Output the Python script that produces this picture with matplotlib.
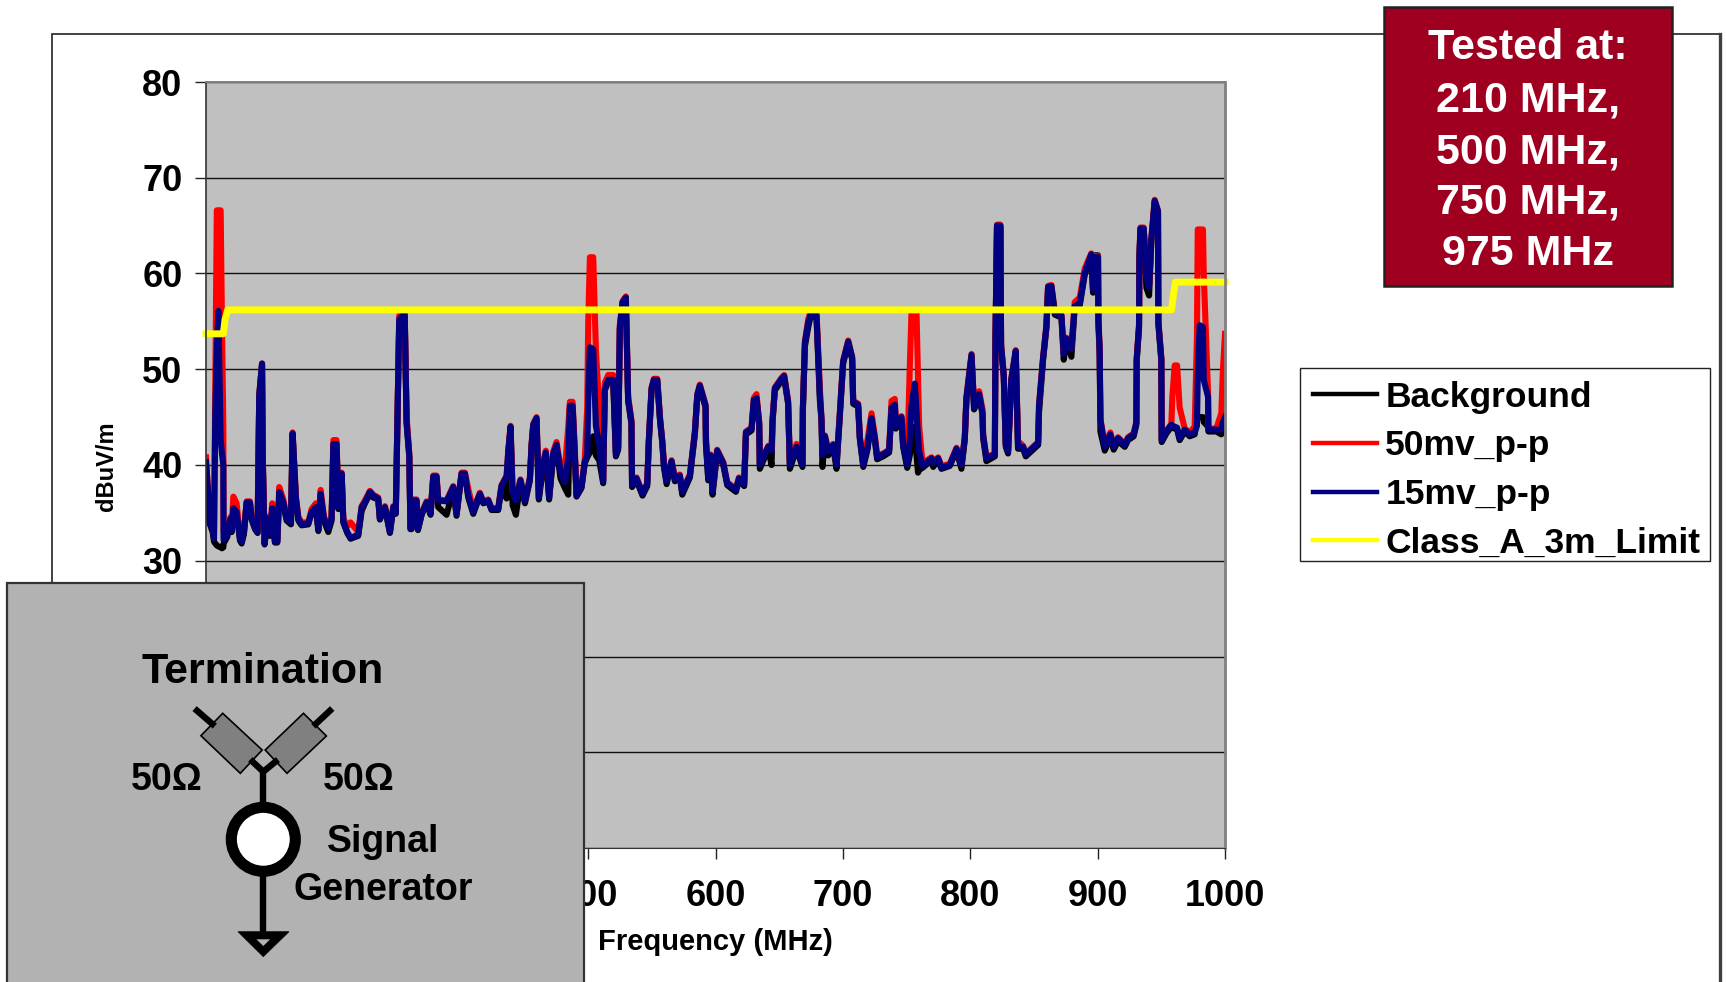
import matplotlib
matplotlib.use('Agg')
import matplotlib.pyplot as plt
from matplotlib.patches import Rectangle, Polygon, Circle

plt.rcParams['font.family'] = ['Liberation Sans', 'DejaVu Sans']
plt.rcParams['font.weight'] = 'bold'

# frequency grid, MHz
freq = [
    200, 201.8, 202.6, 205.2, 206.3, 207.3, 208.5, 209.7, 211.5, 212.5,
    213.6, 213.8, 216.7, 219.4, 220.2, 221.5, 224, 226.7, 228, 229.8,
    231.9, 234.5, 235.8, 238.5, 240.5, 241.8, 244, 244.5, 246, 248.1,
    250.2, 252, 254.1, 256, 257.5, 260.7, 263.3, 266.7, 268, 270.6,
    272.5, 275, 280.3, 282.9, 286.3, 288.2, 290, 292.6, 296, 298.6,
    300, 302.5, 303.9, 306.5, 307.8, 310.9, 313.5, 319.5, 322.2, 324.8,
    328.7, 331.3, 335.2, 336.5, 340.5, 344.4, 347, 349, 350.9, 351.7,
    354.9, 356, 357.5, 359.6, 360.5, 361.4, 362.7, 365.3, 366.4, 369.3,
    373.2, 376.3, 378.4, 381, 382.3, 388.9, 394.1, 396.7, 400.6, 403.3,
    405.9, 409.8, 415, 417.7, 421.6, 424.2, 429.4, 432, 436, 437.3,
    439.1, 440.7, 443.3, 446.9, 450.4, 454.3, 455.6, 456.9, 459.5, 461.3,
    463.4, 466.8, 469.4, 472.6, 475.2, 478.3, 481.7, 484.4, 485.7, 487.8,
    489.6, 490.9, 494.8, 497.4, 499.3, 500.1, 501.4, 504, 506.1, 508.7,
    511.8, 513.1, 515.8, 519.7, 521.8, 523.6, 524.9, 527, 529.6, 531.4,
    534, 534.5, 538, 542.7, 546.4, 547.6, 549.8, 551.6, 554.3, 556.4,
    558.2, 559.5, 561.6, 565.5, 568.1, 572, 573.9, 579.9, 582, 583.8,
    585.7, 587.7, 592.2, 592.5, 594.3, 596.1, 597.7, 601.3, 606.1, 609.2,
    616, 618.4, 622.5, 623.9, 628.3, 630.1, 632.2, 634.3, 634.8, 641.4,
    644, 644.8, 646.6, 651.8, 653.9, 657, 658.4, 663.6, 668.3, 668.6,
    670.2, 672.8, 674.6, 679.3, 681.9, 683.2, 684, 685.9, 688.5, 692.4,
    695, 697.1, 700.2, 704.2, 707.3, 708.1, 712, 713.3, 716, 719.3,
    722.5, 725.1, 726.9, 731.6, 736.3, 738.2, 740.8, 741.6, 746, 747.3,
    750.5, 752.5, 753.9, 756.5, 757.8, 759, 759.9, 762.5, 769.6, 770.9,
    774.8, 777.4, 783.9, 789.2, 793.1, 795.7, 797, 801, 803, 807,
    809.6, 810.1, 812.7, 819.3, 819.8, 821, 823.7, 824.2, 826.3, 827.9,
    829.7, 832.3, 835.7, 837.5, 841.5, 843.6, 853.3, 854, 857.2, 859.8,
    861.1, 863.7, 866.4, 871.6, 873.4, 875.5, 879.4, 882, 886, 889.9,
    895, 896.4, 897.7, 900.3, 900.6, 901.6, 902.2, 905.6, 910, 912.6,
    916, 921.3, 923.9, 928.3, 930.4, 930.7, 932.5, 932.8, 933.6, 936.2,
    938.3, 940.4, 942.2, 944.8, 947.4, 947.7, 950, 950.3, 954, 957.9,
    958.7, 960.5, 962.4, 964.4, 968.4, 972.3, 976.2, 978, 978.6, 980.1,
    982.7, 983.3, 986.7, 987, 993.2, 997.1, 998.4, 1000,
]

background = [
    38.5, 36.5, 34, 33, 32, 31.8, 31.6, 31.5, 31.4, 31.3,
    31.4, 31.8, 32.5, 34.2, 33, 35.2, 35, 32.1, 31.8, 32.8,
    36, 36, 34.3, 33.3, 32.9, 47, 50.4, 40.8, 31.7, 34.2,
    32.6, 35.2, 31.9, 31.9, 37, 35.9, 34.2, 33.8, 43.2, 36.3,
    34.2, 33.7, 33.8, 35, 35.4, 33.1, 36.8, 34.2, 33, 34.2,
    42, 42, 35.4, 39, 34, 32.9, 32.3, 32.6, 35.2, 36,
    37, 36.6, 36.4, 34.3, 35.5, 32.9, 35.5, 34.9, 48.8, 55,
    55.5, 55.5, 44.3, 40.8, 33.3, 33.3, 36.2, 36.2, 33.2, 34.8,
    36, 34.8, 38.7, 38.7, 35.6, 34.8, 37.5, 34.7, 39, 39,
    36.6, 34.9, 36.8, 36, 36.2, 35.3, 35.3, 37.6, 36.5, 41.2,
    43.8, 35.8, 34.8, 38.2, 36, 38.4, 41.9, 44, 44.7, 36.4,
    38.5, 41, 36.4, 41, 41.9, 38.6, 37.6, 36.9, 46, 46,
    40.8, 36.7, 37.6, 40.2, 40.8, 41, 41.3, 43, 41, 40.5,
    38.1, 47.8, 48.7, 48.7, 40.9, 41.6, 54.2, 56.8, 57.3, 46.7,
    44.3, 37.7, 38.4, 36.8, 37.8, 42.2, 47.8, 48.7, 48.7, 44.7,
    42.3, 39.8, 38, 40.2, 38.3, 38.7, 36.9, 38.7, 41.1, 43.2,
    47.1, 48.1, 46, 42.2, 38.4, 40.8, 36.9, 41.3, 40, 37.9,
    37.2, 38.4, 37.8, 43.2, 43.6, 46.6, 46.8, 44.2, 39.6, 41.7,
    40, 44.5, 47.8, 48.8, 49.1, 46.4, 39.6, 41.7, 39.8, 45.7,
    52.4, 54.4, 55.5, 55.4, 46.8, 44.6, 39.8, 42.8, 41, 41.9,
    39.6, 44, 50.6, 52.7, 51, 46.4, 46.1, 42.7, 39.8, 41.6,
    44.7, 42.6, 40.6, 40.9, 41.3, 45.8, 46.1, 43.8, 44.8, 41.9,
    39.7, 41, 42, 44, 41, 39.2, 39.5, 39.7, 40.5, 39.8,
    40.5, 39.6, 39.9, 41.5, 39.6, 42.6, 46.8, 51.3, 45.8, 47.2,
    45.3, 42.8, 40.4, 40.9, 53, 64.8, 64.8, 52.3, 49.2, 41.9,
    41.2, 48.8, 51.7, 41.7, 41.7, 40.9, 42.1, 45.5, 51, 54.3,
    58.4, 58.5, 55.7, 55.4, 51, 53, 51.3, 56.4, 56.7, 59.9,
    61.8, 58, 61.9, 61.9, 54.8, 51.5, 43.5, 41.5, 42.9, 41.6,
    42.5, 41.9, 42.6, 43, 44.2, 50.9, 54.3, 61.6, 64.5, 64.5,
    58.5, 57.7, 63.4, 67.4, 66.3, 54.7, 50.9, 42.4, 43.3, 44,
    43.9, 43.8, 43.7, 42.6, 43.5, 43, 43.2, 45, 45, 45,
    45, 44.5, 44, 43.5, 43.5, 43.2, 44, 44.5,
]

mv50 = [
    40.8, 37, 34.3, 33.6, 32.6, 48, 66.6, 66.6, 66.6, 55,
    44, 33, 33, 34.6, 33.5, 36.7, 36, 32.5, 32.2, 33.2,
    36.2, 36.2, 34.6, 33.5, 33.2, 47.4, 50.6, 41.5, 32, 34.6,
    33, 36, 32.2, 32.2, 37.7, 36.4, 34.6, 34.2, 43.4, 36.7,
    34.6, 34, 34, 35.4, 36, 33.5, 37.4, 34.6, 33.6, 34.6,
    42.6, 42.6, 35.8, 39.2, 34.4, 33.6, 34, 33, 35.7, 36.3,
    37.3, 36.9, 36.6, 34.5, 35.7, 33.1, 35.7, 35.1, 49.2, 55.6,
    55.8, 55.8, 45, 41.2, 33.5, 33.5, 36.4, 36.4, 33.4, 35,
    36.2, 35, 38.9, 38.9, 36.4, 36.3, 37.8, 35, 39.2, 39.2,
    37.5, 35.3, 37.1, 36.2, 36.4, 35.5, 35.5, 37.9, 38.9, 41.5,
    44.1, 37.3, 36.4, 38.5, 36.3, 38.7, 42.2, 44.3, 45, 36.8,
    39.6, 41.5, 36.8, 41.4, 42.4, 39.8, 39.5, 44, 46.6, 46.6,
    41.5, 37, 37.8, 40.6, 46, 55, 61.7, 61.7, 52, 46,
    38.5, 48.6, 49.4, 49.4, 41.3, 42, 54.6, 57.1, 57.6, 47.2,
    44.7, 38, 38.7, 37.1, 38.1, 42.5, 48.1, 49, 49, 45,
    42.6, 40.2, 38.4, 40.5, 38.7, 39, 37.3, 39, 41.4, 43.5,
    47.4, 48.4, 46.3, 43, 39.5, 41.1, 37.3, 41.6, 40.3, 38.2,
    37.5, 38.7, 38.1, 43.5, 43.9, 47, 47.4, 44.5, 40.1, 42,
    41.6, 44.8, 48.1, 49.1, 49.4, 46.7, 40.2, 42.2, 40.1, 46,
    52.9, 55.2, 56, 56, 48, 45, 41.1, 43.1, 41.5, 42.2,
    40.1, 44.4, 50.9, 53, 51.3, 46.7, 46.4, 43, 40.2, 42.6,
    45.4, 43, 41, 41.2, 41.6, 46.7, 46.9, 44.2, 45.1, 42.2,
    40.5, 50, 56, 56, 56, 49, 44, 40.2, 40.8, 40.3,
    40.8, 39.9, 40.1, 41.8, 40.1, 42.9, 47.1, 51.6, 46.3, 47.7,
    45.8, 43.2, 40.8, 41.2, 53.3, 65.1, 65.1, 52.6, 49.5, 42.2,
    41.5, 49.1, 52, 42.5, 42, 41.2, 42.4, 46.3, 51.3, 54.6,
    58.7, 58.8, 56, 55.7, 51.7, 53.3, 52.2, 57, 57.5, 60.5,
    62.1, 58.4, 61.8, 61.8, 55.3, 52.1, 44.8, 42.1, 43.4, 42,
    42.9, 42.2, 42.9, 43.3, 44.5, 51.2, 54.6, 61.9, 64.8, 64.8,
    59.8, 58.7, 63.7, 67.7, 66.6, 55, 51.2, 42.7, 43.6, 44.3,
    47.2, 50.4, 50.4, 46, 43.8, 43.4, 44, 53.5, 64.6, 64.6,
    64.6, 60, 47.5, 43.8, 43.8, 45.4, 50, 53.7,
]

mv15 = [
    40.3, 36.8, 34.1, 33.4, 32.3, 45.5, 52, 56.1, 42.7, 41.2,
    40, 32.2, 32.7, 34.4, 33.2, 35.5, 35.1, 32.3, 32, 33,
    36.1, 36.1, 34.4, 33.4, 33, 47.3, 50.6, 41, 31.8, 34.4,
    32.8, 35.5, 32, 32, 37.2, 36.1, 34.4, 34, 43.3, 36.5,
    34.4, 33.8, 33.9, 35.1, 35.6, 33.3, 37, 34.4, 33.4, 34.4,
    42.2, 42.2, 35.6, 39.1, 34.1, 33, 32.4, 32.7, 35.6, 36.1,
    37.2, 36.8, 36.5, 34.4, 35.6, 33, 35.6, 35, 49, 55.2,
    55.7, 55.7, 44.5, 41, 33.4, 33.4, 36.3, 36.3, 33.3, 34.9,
    36.1, 34.9, 38.8, 38.8, 36.3, 36.2, 37.7, 34.9, 39.1, 39.1,
    36.8, 35.1, 37, 36.1, 36.3, 35.4, 35.4, 37.8, 38.8, 41.4,
    44, 37.2, 36.3, 38.4, 36.2, 38.6, 42.1, 44.2, 44.9, 36.6,
    39.4, 41.3, 36.6, 41.2, 42.1, 39.4, 38.2, 40.8, 46.2, 46.2,
    41, 36.8, 37.7, 40.4, 41, 46.9, 52.3, 52.1, 44.1, 42.1,
    38.3, 48, 48.9, 48.9, 41.1, 41.8, 54.4, 57, 57.5, 46.9,
    44.5, 37.9, 38.6, 37, 38, 42.4, 48, 48.9, 48.9, 44.9,
    42.5, 40, 38.3, 40.4, 38.5, 38.9, 37.2, 38.9, 41.3, 43.4,
    47.3, 48.3, 46.2, 42.4, 38.6, 41, 37.2, 41.5, 40.2, 38.1,
    37.4, 38.6, 38, 43.4, 43.8, 46.8, 47, 44.4, 40, 41.9,
    41.5, 44.7, 48, 49, 49.3, 46.6, 40, 41.9, 40, 45.9,
    52.8, 54.9, 55.7, 55.6, 47.5, 44.8, 41, 43, 41.4, 42.1,
    40, 44.2, 50.8, 52.9, 51.2, 46.6, 46.3, 42.9, 40, 41.8,
    44.9, 42.8, 40.8, 41.1, 41.5, 46, 46.3, 44, 45, 42.1,
    40, 42.5, 46.3, 48.5, 45.5, 43, 41.4, 39.9, 40.7, 40.2,
    40.7, 39.7, 40, 41.7, 40, 42.8, 47, 51.5, 46, 47.4,
    45.5, 43.1, 40.7, 41.1, 53.2, 65, 65, 52.5, 49.4, 42.1,
    41.4, 49, 51.9, 41.9, 41.9, 41.1, 42.3, 46.2, 51.2, 54.5,
    58.6, 58.7, 55.9, 55.6, 51.6, 53.2, 52.1, 56.6, 56.9, 60.1,
    62, 58.3, 61.7, 61.7, 55.2, 52, 44.7, 41.9, 43.2, 41.9,
    42.8, 42.1, 42.8, 43.2, 44.4, 51.1, 54.5, 61.8, 64.7, 64.7,
    59.7, 58.6, 63.6, 67.6, 66.5, 54.9, 51.1, 42.6, 43.5, 44.2,
    44.1, 44, 43.9, 42.8, 43.7, 43.2, 43.4, 44.1, 49.3, 54.6,
    54.4, 48.9, 47.1, 43.7, 43.7, 43.7, 44.5, 45,
]

limit_freq = [200, 213.5, 215, 217, 958, 959.5, 961, 1000]
limit_db = [53.7, 53.7, 55.2, 56.2, 56.2, 57.8, 59.1, 59.1]

x_ticks = [200, 300, 400, 500, 600, 700, 800, 900, 1000]
x_tick_labels = ['', '', '', '500', '600', '700', '800', '900', '1000']  # first three sit under the panel
y_ticks = [0, 10, 20, 30, 40, 50, 60, 70, 80]
y_tick_labels = ['', '', '', '30', '40', '50', '60', '70', '80']
tested_lines = ['Tested at:', '210 MHz,', '500 MHz,', '750 MHz,', '975 MHz']

W, H = 1726, 982
AX_L, AX_R, AX_T, AX_B = 206, 1225, 82, 848
fig = plt.figure(figsize=(W / 100, H / 100), dpi=100, facecolor='white')

# white chart area with its outline, runs off the bottom of the slide
bg_ax = fig.add_axes([0, 0, 1, 1], zorder=0)
bg_ax.set_xlim(0, W)
bg_ax.set_ylim(H, 0)
bg_ax.axis('off')
bg_ax.add_patch(Rectangle((52, 34), 1668, 1000, fc='white', ec='#222222', lw=1.2))
bg_ax.plot([1720, 1720], [34, H], color='#404040', lw=2.4)
# legend box drawn on its own, the legend's frame comes out too tall
bg_ax.add_patch(Rectangle((1300, 368), 410, 193, fc='white', ec='#222222', lw=1.0))

# main chart
ax = fig.add_axes([AX_L / W, 1 - AX_B / H, (AX_R - AX_L) / W, (AX_B - AX_T) / H], zorder=1)
ax.set_facecolor('#C0C0C0')
ax.set_xlim(200, 1000)
ax.set_ylim(0, 80)
ax.set_xticks(x_ticks, x_tick_labels)
ax.set_yticks(y_ticks, y_tick_labels)
ax.grid(axis='y', color='#111111', lw=1.0)
ax.set_axisbelow(True)
ax.tick_params(axis='x', labelsize=26, length=8, width=1.0, color='#222222', pad=14)
ax.tick_params(axis='y', labelsize=26, length=8, width=1.0, color='#222222', pad=9)
for side in ['top', 'right']:
    ax.spines[side].set_color('#808080')
ax.spines['right'].set_linewidth(2)
ax.spines['top'].set_linewidth(1.4)
ax.spines['left'].set_color('#333333')
ax.spines['left'].set_linewidth(1.2)
ax.spines['bottom'].set_color('#333333')

ax.plot(freq, background, color='black', lw=4.4, label='Background', solid_joinstyle='round')
ax.plot(freq, mv50, color='#FF0000', lw=4.4, label='50mv_p-p', solid_joinstyle='round')
ax.plot(freq, mv15, color='#000080', lw=4.4, label='15mv_p-p', solid_joinstyle='round')
ax.plot(limit_freq, limit_db, color='#FFFF00', lw=5, label='Class_A_3m_Limit', clip_on=False)

ax.set_ylabel('dBuV/m', fontsize=17, fontweight='bold')
ax.yaxis.set_label_coords((118 - AX_L) / (AX_R - AX_L), (AX_B - 466) / (AX_B - AX_T))
ax.set_xlabel('Frequency (MHz)', fontsize=21, fontweight='bold')
ax.xaxis.set_label_coords((715 - AX_L) / (AX_R - AX_L), (AX_B - 928) / (AX_B - AX_T))

leg = ax.legend(loc='upper left', bbox_to_anchor=(1300 / W, 1 - 368 / H), bbox_transform=fig.transFigure,
                fontsize=25.5, frameon=False, borderaxespad=0, borderpad=0.36,
                labelspacing=0.44, handlelength=1.8, handletextpad=0.25)
for line in leg.get_lines():
    line.set_linewidth(3.2)

# pasted shapes on top of the chart, placed in slide pixels
top = fig.add_axes([0, 0, 1, 1], zorder=2)
top.set_xlim(0, W)
top.set_ylim(H, 0)
top.axis('off')

# "Tested at" box
top.add_patch(Rectangle((1384, 7), 288, 279, fc='#A00020', ec='#222222', lw=1.8))
for label, y in zip(tested_lines, [48, 100, 152, 202, 254]):
    top.text(1528, y, label, color='white', fontsize=31, fontweight='bold', ha='center', va='center')

# termination schematic panel
top.add_patch(Rectangle((7, 583), 577, 420, fc='#B2B2B2', ec='#333333', lw=1.6))
top.text(263, 672, 'Termination', fontsize=31, fontweight='bold', ha='center', va='center')
top.text(167, 780, '50Ω', fontsize=27, fontweight='bold', ha='center', va='center')
top.text(359, 780, '50Ω', fontsize=27, fontweight='bold', ha='center', va='center')
top.text(383, 842, 'Signal', fontsize=27, fontweight='bold', ha='center', va='center')
top.text(383, 890, 'Generator', fontsize=27, fontweight='bold', ha='center', va='center')

for xs, ys in [([197, 212.4], [710.7, 724]), ([329.9, 315.7], [710.7, 724])]:
    top.plot(xs, ys, color='black', lw=4.6)
for xs, ys in [([252.6, 263.3, 275.5], [761.7, 771.7, 761.7]), ([263.3, 263.3], [771.7, 805]), ([263.3, 263.3], [875, 935])]:
    top.plot(xs, ys, color='black', lw=4.6)
top.add_patch(Polygon([(222.7, 713.3), (262.2, 750), (240.3, 773.3), (200.9, 735.7)], fc='#808080', ec='black', lw=1.2))
top.add_patch(Polygon([(303.5, 713.3), (326.4, 736), (287, 773.3), (265.2, 750)], fc='#808080', ec='black', lw=1.2))
top.add_patch(Circle((263.3, 839.3), 32, fc='white', ec='black', lw=8))
top.add_patch(Polygon([(238, 931.7), (289, 931.7), (263.3, 956.7)], fc='black', ec='black', lw=0.5))
top.add_patch(Polygon([(256.4, 939.3), (270.2, 939.3), (263.3, 946)], fc='#B2B2B2', ec='none'))

fig.savefig('out.png', dpi=100)
